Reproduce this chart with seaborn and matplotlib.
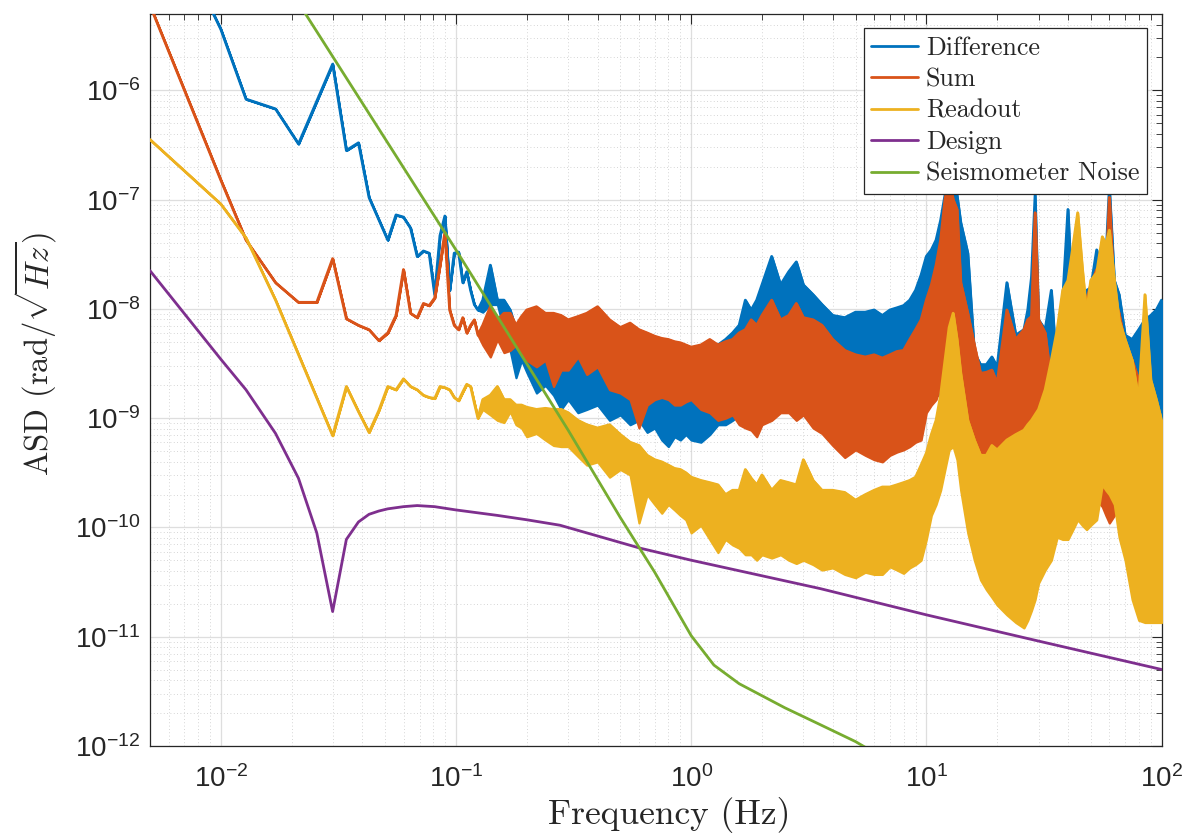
import numpy as np
import matplotlib
matplotlib.use("Agg")
import matplotlib.pyplot as plt
import seaborn as sns
from matplotlib.ticker import FixedLocator, LogLocator, NullFormatter

# ---- data: ASD values stored as log10 exponents ----

# sparse low-frequency bins (Hz)
diff_f_low = [0.005, 0.01, 0.0128, 0.0171, 0.0214, 0.0299, 0.0342, 0.0385, 0.0427, 0.0513,
              0.0556, 0.0598, 0.0641, 0.0684, 0.0727, 0.0769, 0.0812, 0.0855, 0.0897, 0.094,
              0.0983, 0.1026, 0.1069, 0.1111, 0.1154, 0.1197, 0.124]
diff_low = [-4.10, -5.44, -6.08, -6.17, -6.49, -5.76, -6.55, -6.48, -6.98, -7.37,
            -7.14, -7.16, -7.26, -7.52, -7.47, -7.49, -7.87, -7.33, -7.15, -7.83,
            -7.49, -7.48, -7.76, -7.66, -7.83, -7.96, -8.01]

sum_f_low = [0.005, 0.01, 0.0128, 0.0171, 0.0214, 0.0256, 0.0299, 0.0342, 0.0385, 0.0427,
             0.047, 0.0513, 0.0556, 0.0598, 0.0641, 0.0684, 0.0727, 0.0769, 0.0812, 0.0855,
             0.0897, 0.094, 0.0983, 0.1026, 0.1069, 0.1111, 0.1154, 0.1197, 0.124]
sum_low = [-5.22, -6.82, -7.37, -7.76, -7.94, -7.94, -7.54, -8.09, -8.15, -8.19,
           -8.29, -8.22, -8.06, -7.64, -8.04, -8.08, -7.95, -7.97, -7.90, -7.60,
           -7.30, -8.01, -8.15, -8.19, -8.08, -8.22, -8.15, -8.10, -8.24]

read_f_low = [0.005, 0.01, 0.0128, 0.0171, 0.0299, 0.0342, 0.0385, 0.0427, 0.047, 0.0513,
              0.0556, 0.0598, 0.0641, 0.0684, 0.0727, 0.0769, 0.0812, 0.0855, 0.0897, 0.094,
              0.0983, 0.1026, 0.1069, 0.1111, 0.1154, 0.1197, 0.124]
read_low = [-6.45, -7.04, -7.35, -7.92, -9.16, -8.71, -8.94, -9.13, -8.93, -8.71,
            -8.74, -8.64, -8.71, -8.74, -8.79, -8.81, -8.82, -8.71, -8.72, -8.74,
            -8.81, -8.84, -8.76, -8.69, -8.71, -8.86, -9.00]

# dense part of the spectra: upper / lower envelope of the noisy traces
band_f = [0.13, 0.14, 0.15, 0.16, 0.17, 0.18, 0.19, 0.2,
          0.22, 0.24, 0.26, 0.28, 0.3,
          0.33, 0.36, 0.4, 0.45, 0.5,
          0.55, 0.6, 0.65, 0.7, 0.75, 0.8, 0.85, 0.9, 0.95, 1.0,
          1.1, 1.2, 1.3, 1.4, 1.5, 1.6, 1.7, 1.8, 1.9, 2.0,
          2.2, 2.4, 2.6, 2.8, 3.0,
          3.3, 3.6, 4.0, 4.5, 5.0,
          5.5, 6.0, 6.5, 7.0, 7.5, 8.0, 8.5, 9.0, 9.5, 10,
          10.5, 11, 11.5, 12, 12.5, 13, 13.5, 14,
          15, 16, 17, 18, 19, 20,
          22, 24, 26, 27, 28, 29, 30,
          32, 34, 36, 38, 40, 42, 44, 46, 48, 50,
          53, 56, 58, 60, 63, 66, 70,
          75, 80, 85, 90, 95, 100]

diff_hi = [-7.92, -7.60, -7.92, -7.92, -8.01, -8.19, -8.24, -8.24,
           -8.19, -8.33, -8.38, -8.33, -8.42,
           -8.38, -8.33, -8.26, -8.33, -8.38,
           -8.49, -8.47, -8.51, -8.45, -8.49, -8.51, -8.56, -8.54, -8.49, -8.51,
           -8.59, -8.42, -8.33, -8.28, -8.22, -8.15, -7.92, -8.01, -7.92, -7.78,
           -7.52, -7.78, -7.66, -7.57, -7.78,
           -7.87, -7.96, -8.06, -8.08, -8.03,
           -8.03, -8.01, -8.06, -8.01, -7.99, -7.97, -7.92, -7.83, -7.69, -7.52,
           -7.46, -7.37, -7.19, -6.96, -6.73, -6.91, -6.96, -7.21,
           -7.49, -8.40, -8.51, -8.51, -8.44, -8.53,
           -7.76, -8.24, -8.19, -8.01, -7.71, -6.96, -8.10,
           -8.19, -7.83, -8.62, -7.92, -7.09, -8.07, -8.10, -7.92, -7.83, -7.81,
           -7.46, -7.67, -7.55, -6.89, -7.74, -7.87, -8.24,
           -8.28, -8.19, -8.10, -8.06, -8.01, -7.92]
diff_lo = [-8.03, -7.96, -7.96, -8.19, -8.38, -8.63, -8.47, -8.58,
           -8.77, -8.70, -8.79, -8.92, -8.83,
           -8.95, -8.92, -8.88, -9.02, -8.97,
           -9.06, -9.02, -9.13, -9.09, -9.20, -9.26, -9.17, -9.20, -9.15, -9.20,
           -9.22, -9.15, -9.06, -9.06, -9.02, -8.97, -8.92, -8.88, -8.83, -8.79,
           -8.74, -8.79, -8.74, -8.74, -8.79,
           -8.79, -8.79, -8.79, -8.79, -8.79,
           -8.79, -8.79, -8.79, -8.79, -8.79, -8.79, -8.79, -8.79, -8.79, -8.79,
           -8.79, -8.79, -8.79, -8.74, -8.70, -8.74, -8.79, -8.79,
           -8.83, -8.88, -8.92, -8.92, -8.88, -8.88,
           -8.83, -8.92, -8.92, -8.92, -9.02, -9.20, -9.38,
           -9.57, -9.66, -9.75, -9.84, -9.93, -9.84, -9.75, -9.70, -9.66, -9.66,
           -9.70, -9.75, -9.84, -9.93, -9.84, -9.75, -9.75,
           -9.66, -9.57, -9.47, -9.43, -9.38, -9.29]

sum_hi = [-8.15, -7.98, -8.10, -8.04, -8.04, -8.15, -8.07, -8.01,
          -7.98, -8.04, -8.04, -8.06, -8.10,
          -8.07, -8.04, -7.98, -8.10, -8.17,
          -8.13, -8.19, -8.22, -8.25, -8.27, -8.28, -8.30, -8.31, -8.33, -8.35,
          -8.33, -8.28, -8.33, -8.30, -8.28, -8.22, -8.19, -8.10, -8.15, -8.06,
          -7.92, -8.10, -8.06, -7.95, -8.08,
          -8.10, -8.15, -8.28, -8.38, -8.42,
          -8.44, -8.42, -8.45, -8.42, -8.39, -8.38, -8.28, -8.19, -8.10, -7.92,
          -7.78, -7.60, -7.37, -7.00, -6.80, -7.00, -7.09, -7.76,
          -8.04, -8.33, -8.59, -8.58, -8.56, -8.68,
          -8.01, -8.28, -8.19, -8.10, -8.07, -7.12, -8.10,
          -8.22, -8.68, -8.56, -8.40, -8.26, -8.24, -8.22, -8.01, -7.92, -7.78,
          -7.64, -7.80, -7.74, -6.98, -7.92, -8.04, -8.33,
          -8.47, -8.65, -8.90, -8.97, -9.02, -9.11]
sum_lo = [-8.33, -8.44, -8.28, -8.40, -8.38, -8.33, -8.40, -8.47,
          -8.53, -8.47, -8.71, -8.56, -8.56,
          -8.44, -8.60, -8.53, -8.74, -8.77,
          -8.83, -9.09, -8.88, -8.83, -8.81, -8.83, -8.88, -8.88, -8.85, -8.83,
          -8.92, -8.95, -9.02, -9.00, -8.97, -9.06, -9.09, -9.11, -9.17, -9.06,
          -9.02, -8.95, -8.95, -9.02, -8.97,
          -9.09, -9.14, -9.25, -9.36, -9.29,
          -9.34, -9.38, -9.40, -9.34, -9.31, -9.29, -9.26, -9.22, -9.20, -8.95,
          -8.88, -8.83, -8.70, -8.60, -8.58, -8.65, -8.74, -8.92,
          -9.11, -9.34, -9.54, -9.57, -9.57, -9.59,
          -9.47, -9.50, -9.47, -9.46, -9.45, -9.66, -9.79,
          -9.90, -10.09, -10.07, -10.02, -9.96, -9.91, -9.89, -9.79, -9.77, -9.75,
          -9.75, -9.81, -9.89, -9.96, -9.89, -9.79, -9.75,
          -9.70, -9.34, -9.20, -9.20, -9.15, -9.57]

read_hi = [-8.83, -8.79, -8.71, -8.83, -8.83, -8.88, -8.88, -8.90,
           -8.92, -8.91, -8.92, -8.92, -8.95,
           -9.02, -9.06, -9.09, -9.06, -9.15,
           -9.22, -9.25, -9.34, -9.38, -9.40, -9.43, -9.46, -9.47, -9.50, -9.54,
           -9.57, -9.59, -9.61, -9.70, -9.66, -9.66, -9.47, -9.55, -9.61, -9.52,
           -9.66, -9.57, -9.59, -9.61, -9.38,
           -9.57, -9.66, -9.66, -9.68, -9.75,
           -9.70, -9.66, -9.63, -9.63, -9.61, -9.59, -9.57, -9.54, -9.43, -9.32,
           -9.15, -9.02, -8.79, -8.47, -8.17, -8.04, -8.28, -8.59,
           -9.02, -9.20, -9.34, -9.34, -9.25, -9.29,
           -9.20, -9.15, -9.11, -9.06, -9.02, -8.97, -8.92,
           -8.74, -8.47, -8.19, -7.83, -7.74, -7.43, -7.12, -7.62, -8.04, -7.74,
           -7.67, -7.34, -7.41, -7.28, -7.74, -8.10, -8.28,
           -8.47, -8.83, -7.87, -8.65, -8.83, -9.02]
read_lo = [-8.92, -8.97, -9.02, -9.04, -8.94, -9.06, -9.09, -9.17,
           -9.14, -9.20, -9.25, -9.26, -9.26,
           -9.35, -9.43, -9.40, -9.54, -9.47,
           -9.52, -9.96, -9.70, -9.79, -9.87, -9.79, -9.84, -9.89, -9.93, -10.05,
           -9.98, -10.11, -10.23, -10.11, -10.16, -10.19, -10.25, -10.25, -10.30, -10.25,
           -10.28, -10.25, -10.30, -10.33, -10.30,
           -10.34, -10.39, -10.37, -10.43, -10.46,
           -10.41, -10.43, -10.43, -10.36, -10.39, -10.42, -10.37, -10.34, -10.30, -10.11,
           -9.89, -9.79, -9.66, -9.47, -9.29, -9.26, -9.38, -9.66,
           -10.05, -10.30, -10.48, -10.57, -10.64, -10.71,
           -10.80, -10.87, -10.92, -10.85, -10.76, -10.66, -10.51,
           -10.39, -10.30, -10.09, -10.11, -10.11, -10.02, -9.93, -9.98, -10.02, -9.98,
           -9.93, -9.61, -9.66, -9.70, -9.79, -10.09, -10.30,
           -10.66, -10.85, -10.87, -10.87, -10.87, -10.87]

design_f = [0.005, 0.01, 0.0128, 0.0171, 0.0214, 0.0256, 0.0299, 0.0342, 0.0385, 0.0427,
            0.047, 0.0513, 0.0598, 0.0684, 0.0812, 0.1, 0.15, 0.2, 0.277, 0.607,
            1.0, 3.54, 10, 30, 100]
design_exp = [-7.65, -8.46, -8.74, -9.14, -9.55, -10.05, -10.77, -10.11, -9.95, -9.88,
              -9.85, -9.83, -9.81, -9.80, -9.81, -9.84, -9.89, -9.93, -9.98, -10.19,
              -10.30, -10.56, -10.80, -11.04, -11.30]

seis_f = [0.02, 0.1, 0.3, 0.5, 0.7, 1.0, 1.25, 1.6, 2.5, 3.5, 5.0, 6.0]
seis_exp = [-5.10, -7.46, -9.11, -9.91, -10.41, -10.99, -11.26, -11.43, -11.65, -11.80,
            -11.96, -12.06]

labels = ["Difference", "Sum", "Readout", "Design", "Seismometer Noise"]
colors = ["#0072BD", "#D95319", "#EDB120", "#7E2F8E", "#77AC30"]
x_ticks = [1e-2, 1e-1, 1e0, 1e1, 1e2]
y_ticks = [1e-12, 1e-11, 1e-10, 1e-9, 1e-8, 1e-7, 1e-6]

# ---- style ----
sns.set_theme(style="white")
plt.rcParams["font.family"] = ["Liberation Sans", "DejaVu Sans"]
plt.rcParams["mathtext.fontset"] = "cm"
ink = "#262626"

fig = plt.figure(figsize=(11.93, 8.36), dpi=100)
ax = fig.add_axes([0.1257, 0.1077, 0.8479, 0.8756])
ax.set_xscale("log")
ax.set_yscale("log")

noisy = [
    (diff_f_low, diff_low, diff_hi, diff_lo),
    (sum_f_low, sum_low, sum_hi, sum_lo),
    (read_f_low, read_low, read_hi, read_lo),
]
for i, (f_low, v_low, hi, lo) in enumerate(noisy):
    f = np.array(f_low + band_f)
    top = 10.0 ** np.array(v_low + hi)
    bot = 10.0 ** np.array(v_low + lo)
    sns.lineplot(x=f, y=top, ax=ax, color=colors[i], lw=2.0, label=labels[i],
                 estimator=None, sort=False, zorder=3 + i)
    ax.fill_between(f, bot, top, facecolor=colors[i], edgecolor=colors[i],
                    lw=1.6, zorder=3 + i)

sns.lineplot(x=design_f, y=10.0 ** np.array(design_exp), ax=ax, color=colors[3],
             lw=2.0, label=labels[3], estimator=None, sort=False, zorder=6)
sns.lineplot(x=seis_f, y=10.0 ** np.array(seis_exp), ax=ax, color=colors[4],
             lw=2.0, label=labels[4], estimator=None, sort=False, zorder=7)

ax.set_xlim(5e-3, 100)
ax.set_ylim(1e-12, 5e-6)

ax.xaxis.set_major_locator(FixedLocator(x_ticks))
ax.yaxis.set_major_locator(FixedLocator(y_ticks))
for axis in (ax.xaxis, ax.yaxis):
    axis.set_minor_locator(LogLocator(base=10, subs=np.arange(2, 10), numticks=100))
    axis.set_minor_formatter(NullFormatter())

ax.grid(True, which="major", color="#dedede", lw=0.9, ls="-")
ax.grid(True, which="minor", color="#c8c8c8", lw=0.6, ls=(0, (1, 3)))
ax.set_axisbelow(True)

ax.tick_params(which="both", direction="in", top=True, right=True, color=ink,
               labelcolor=ink, labelsize=20)
ax.tick_params(which="major", length=7, width=0.8)
ax.tick_params(which="minor", length=4, width=0.6)
ax.tick_params(axis="x", pad=14)
ax.tick_params(axis="y", pad=7)
for s in ax.spines.values():
    s.set_color(ink)
    s.set_linewidth(0.9)

ax.set_xlabel("Frequency (Hz)", fontfamily="cmr10", fontsize=25.5, color=ink)
ax.set_ylabel(r"ASD (rad/$\sqrt{Hz}$)", fontfamily="cmr10", fontsize=23.5, color=ink)
ax.xaxis.set_label_coords(0.513, -0.07)
ax.yaxis.set_label_coords(-0.09, 0.535)

leg = ax.legend(loc="upper right", prop={"family": "cmr10", "size": 18.7},
                frameon=True, fancybox=False, framealpha=1, edgecolor=ink,
                handlelength=1.8, handletextpad=0.3, borderpad=0.3,
                labelspacing=0.3, borderaxespad=0.55)
leg.get_frame().set_linewidth(0.9)
leg.set_zorder(20)

fig.savefig("out.png", dpi=100)
